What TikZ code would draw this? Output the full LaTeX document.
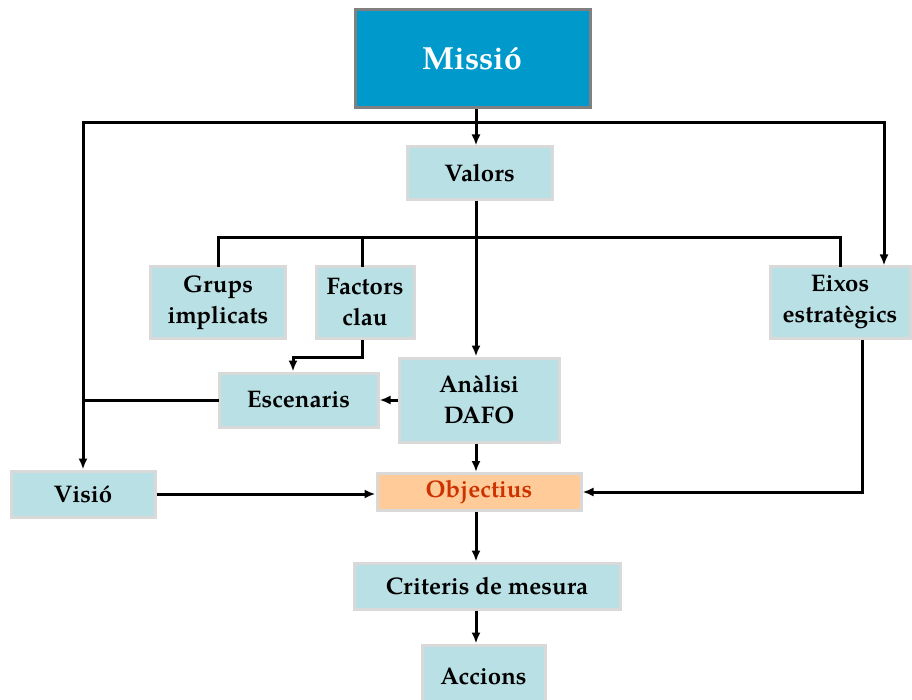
\documentclass[tikz,border=0pt]{standalone}
\usepackage{fontspec}
\setmainfont{TeX Gyre Pagella}
\usetikzlibrary{arrows.meta,calc}
\definecolor{boxblue}{HTML}{B9E0E4}
\definecolor{boxedge}{HTML}{D9D9D9}
\definecolor{missioblue}{HTML}{0099CC}
\definecolor{missioedge}{HTML}{808080}
\definecolor{objfill}{HTML}{FFCC99}
\definecolor{objtext}{HTML}{CC3300}
\tikzset{
  box/.style={fill=boxblue, draw=boxedge, line width=3pt, inner sep=0pt, align=center,
    font=\fontsize{24}{31}\selectfont\bfseries},
  line/.style={line width=3pt, line cap=rect},
  arr/.style={line width=3pt, -{Latex[length=11pt,width=9pt]}},
}
\begin{document}
\begin{tikzpicture}[x=1pt,y=-1pt]
\useasboundingbox (0,0) rectangle (912,700);
\node[fill=missioblue, draw=missioedge, line width=3pt, minimum width=235pt, minimum height=98pt,
  text=white, font=\fontsize{32}{36}\selectfont\bfseries] (missio) at (472.5,59) {Missió};
\node[box, minimum width=145pt, minimum height=53pt] (valors) at (479.5,173.5) {Valors};
\node[box, minimum width=135pt, minimum height=71pt] (grups) at (218,302.5) {Grups\\implicats};
\node[box, minimum width=98pt, minimum height=71pt] (factors) at (365,302.5) {Factors\\clau};
\node[box, minimum width=140pt, minimum height=71pt] (eixos) at (840,302.5) {Eixos\\estratègics};
\node[box, minimum width=159pt, minimum height=54pt] (escenaris) at (298.5,400) {Escenaris};
\node[box, minimum width=160pt, minimum height=84pt] (analisi) at (479,400) {Anàlisi\\DAFO};
\node[box, minimum width=144pt, minimum height=46pt] (visio) at (83,494) {Visió};
\node[box, fill=objfill, text=objtext, minimum width=204pt, minimum height=37pt] (objectius) at (479,492) {Objectius};
\node[box, minimum width=266pt, minimum height=46pt] (criteris) at (487,586) {Criteris de mesura};
\node[box, minimum width=123pt, minimum height=62pt] (accions) at (483.5,676) {Accions};

\coordinate (cx) at (476,0);
\coordinate (tl) at (83,123);
\coordinate (tr) at (884,123);
\coordinate (b1) at (0,238);
\coordinate (fx) at (362,0);
\coordinate (fe) at (293,357);
\coordinate (ex) at (862,0);

\draw[line] (tl) -- (tr);
\draw[arr] (missio.south -| cx) -- (valors.north -| cx);
\draw[arr] (tl) -- (visio.north);
\draw[arr] (tr) -- (eixos.north -| tr);
\draw[line] (grups.north) -- (grups.north |- b1) -- (eixos.north |- b1) -- (eixos.north);
\draw[line] (factors.north -| fx) -- (fx |- b1);
\draw[arr] (valors.south -| cx) -- (analisi.north -| cx);
\draw[arr] (factors.south -| fx) |- (fe) -- (escenaris.north -| fe);
\draw[arr] (analisi.west) -- (escenaris.east);
\draw[line] (escenaris.west) -- (escenaris.west -| tl);
\draw[arr] (visio.east) -- (objectius.west |- visio.east);
\draw[arr] (analisi.south -| cx) -- (objectius.north -| cx);
\draw[arr] (eixos.south -| ex) |- (objectius.east);
\draw[arr] (objectius.south -| cx) -- (criteris.north -| cx);
\draw[arr] (criteris.south -| cx) -- (accions.north -| cx);
\end{tikzpicture}
\end{document}
